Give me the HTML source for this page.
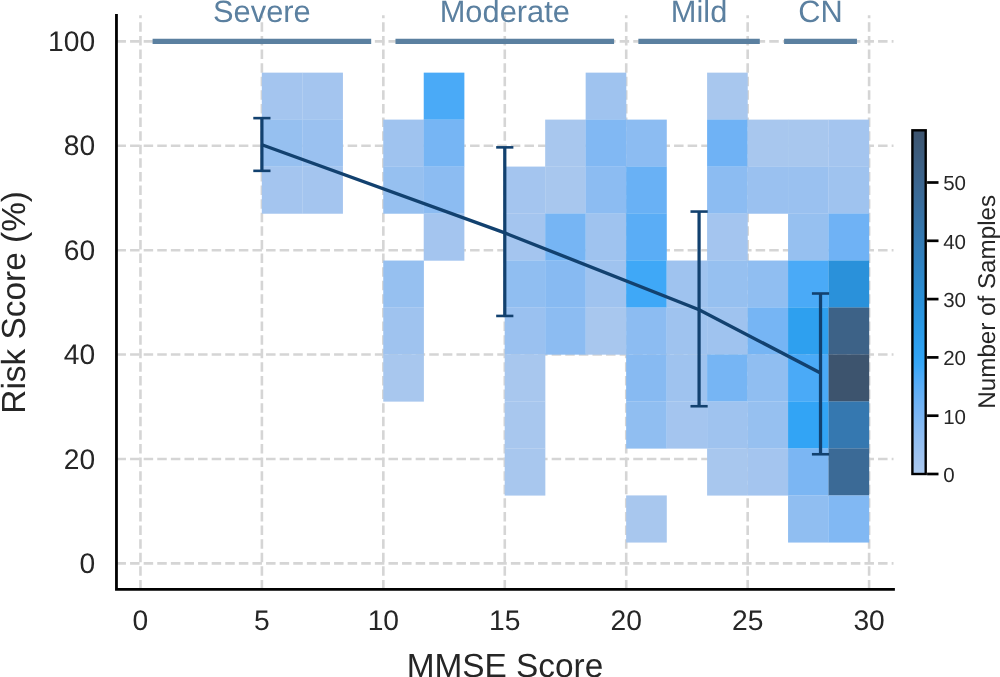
<!DOCTYPE html>
<html><head><meta charset="utf-8"><title>MMSE vs Risk Score</title>
<style>html,body{margin:0;padding:0;background:#fff}body{width:1000px;height:677px;overflow:hidden}svg{display:block;opacity:.999;will-change:transform}text{text-rendering:geometricPrecision;font-family:"Liberation Sans",Arial,Helvetica,sans-serif}</style></head><body>
<svg width="1000" height="677" viewBox="0 0 1000 677">
<defs><linearGradient id="cb" x1="0" y1="1" x2="0" y2="0">
<stop offset="0.0000" stop-color="#acc9ee"/>
<stop offset="0.0196" stop-color="#a7c7ef"/>
<stop offset="0.0392" stop-color="#a2c4ef"/>
<stop offset="0.0588" stop-color="#9dc2f0"/>
<stop offset="0.0784" stop-color="#97c0f0"/>
<stop offset="0.0980" stop-color="#92bef1"/>
<stop offset="0.1176" stop-color="#8cbcf2"/>
<stop offset="0.1373" stop-color="#86baf2"/>
<stop offset="0.1569" stop-color="#7fb8f3"/>
<stop offset="0.1765" stop-color="#79b5f4"/>
<stop offset="0.1961" stop-color="#72b3f4"/>
<stop offset="0.2157" stop-color="#6ab1f5"/>
<stop offset="0.2353" stop-color="#62aff5"/>
<stop offset="0.2549" stop-color="#5aadf6"/>
<stop offset="0.2745" stop-color="#50abf7"/>
<stop offset="0.2941" stop-color="#46a9f7"/>
<stop offset="0.3137" stop-color="#39a7f7"/>
<stop offset="0.3333" stop-color="#33a5f5"/>
<stop offset="0.3529" stop-color="#30a2f2"/>
<stop offset="0.3725" stop-color="#2ea0ef"/>
<stop offset="0.3922" stop-color="#2d9dec"/>
<stop offset="0.4118" stop-color="#2b9be8"/>
<stop offset="0.4314" stop-color="#2a99e5"/>
<stop offset="0.4510" stop-color="#2a96e1"/>
<stop offset="0.4706" stop-color="#2a94de"/>
<stop offset="0.4902" stop-color="#2a91da"/>
<stop offset="0.5098" stop-color="#2a8fd6"/>
<stop offset="0.5294" stop-color="#2b8dd2"/>
<stop offset="0.5490" stop-color="#2c8ace"/>
<stop offset="0.5686" stop-color="#2d88ca"/>
<stop offset="0.5882" stop-color="#2e85c6"/>
<stop offset="0.6078" stop-color="#2f83c2"/>
<stop offset="0.6275" stop-color="#3080be"/>
<stop offset="0.6471" stop-color="#327eba"/>
<stop offset="0.6667" stop-color="#337cb6"/>
<stop offset="0.6863" stop-color="#3479b2"/>
<stop offset="0.7059" stop-color="#3577ad"/>
<stop offset="0.7255" stop-color="#3675a9"/>
<stop offset="0.7451" stop-color="#3772a5"/>
<stop offset="0.7647" stop-color="#3870a1"/>
<stop offset="0.7843" stop-color="#396d9c"/>
<stop offset="0.8039" stop-color="#3a6b98"/>
<stop offset="0.8235" stop-color="#3b6994"/>
<stop offset="0.8431" stop-color="#3c6690"/>
<stop offset="0.8627" stop-color="#3c648b"/>
<stop offset="0.8824" stop-color="#3d6287"/>
<stop offset="0.9020" stop-color="#3d6083"/>
<stop offset="0.9216" stop-color="#3d5d7f"/>
<stop offset="0.9412" stop-color="#3d5b7a"/>
<stop offset="0.9608" stop-color="#3d5976"/>
<stop offset="0.9804" stop-color="#3d5672"/>
<stop offset="1.0000" stop-color="#3d546e"/>
<stop offset="1" stop-color="#3d546e"/>
</linearGradient></defs>
<rect width="1000" height="677" fill="#fff"/>
<g stroke="#d5d5d5" stroke-width="2.6" stroke-dasharray="9.5 4.1" fill="none">
<line x1="140.45" y1="589.45" x2="140.45" y2="15.30"/>
<line x1="261.89" y1="589.45" x2="261.89" y2="15.30"/>
<line x1="383.33" y1="589.45" x2="383.33" y2="15.30"/>
<line x1="504.78" y1="589.45" x2="504.78" y2="15.30"/>
<line x1="626.22" y1="589.45" x2="626.22" y2="15.30"/>
<line x1="747.66" y1="589.45" x2="747.66" y2="15.30"/>
<line x1="869.10" y1="589.45" x2="869.10" y2="15.30"/>
<line x1="116.46" y1="563.35" x2="893.49" y2="563.35"/>
<line x1="116.46" y1="458.96" x2="893.49" y2="458.96"/>
<line x1="116.46" y1="354.57" x2="893.49" y2="354.57"/>
<line x1="116.46" y1="250.18" x2="893.49" y2="250.18"/>
<line x1="116.46" y1="145.79" x2="893.49" y2="145.79"/>
<line x1="116.46" y1="41.40" x2="893.49" y2="41.40"/>
</g>
<g>
<rect x="261.81" y="72.64" width="40.64" height="47.14" fill="#a4c5ef"/>
<rect x="261.81" y="119.61" width="40.64" height="47.14" fill="#96c0f0"/>
<rect x="261.81" y="166.59" width="40.64" height="47.14" fill="#a4c5ef"/>
<rect x="302.29" y="72.64" width="40.64" height="47.14" fill="#a4c5ef"/>
<rect x="302.29" y="119.61" width="40.64" height="47.14" fill="#9ac1f0"/>
<rect x="302.29" y="166.59" width="40.64" height="47.14" fill="#a4c5ef"/>
<rect x="383.25" y="119.61" width="40.64" height="47.14" fill="#9fc3ef"/>
<rect x="383.25" y="166.59" width="40.64" height="47.14" fill="#96c0f0"/>
<rect x="383.25" y="260.54" width="40.64" height="47.14" fill="#96c0f0"/>
<rect x="383.25" y="307.51" width="40.64" height="47.14" fill="#9fc3ef"/>
<rect x="383.25" y="354.49" width="40.64" height="47.14" fill="#a8c7ee"/>
<rect x="423.73" y="72.64" width="40.64" height="47.14" fill="#4aaaf7"/>
<rect x="423.73" y="119.61" width="40.64" height="47.14" fill="#76b5f4"/>
<rect x="423.73" y="166.59" width="40.64" height="47.14" fill="#8cbcf2"/>
<rect x="423.73" y="213.56" width="40.64" height="47.14" fill="#a4c5ef"/>
<rect x="504.70" y="166.59" width="40.64" height="47.14" fill="#a4c5ef"/>
<rect x="504.70" y="213.56" width="40.64" height="47.14" fill="#a4c5ef"/>
<rect x="504.70" y="260.54" width="40.64" height="47.14" fill="#90bef1"/>
<rect x="504.70" y="307.51" width="40.64" height="47.14" fill="#9ac1f0"/>
<rect x="504.70" y="354.49" width="40.64" height="47.14" fill="#a8c7ee"/>
<rect x="504.70" y="401.47" width="40.64" height="47.14" fill="#a8c7ee"/>
<rect x="504.70" y="448.44" width="40.64" height="47.14" fill="#a8c7ee"/>
<rect x="545.18" y="119.61" width="40.64" height="47.14" fill="#a8c7ee"/>
<rect x="545.18" y="166.59" width="40.64" height="47.14" fill="#a8c7ee"/>
<rect x="545.18" y="213.56" width="40.64" height="47.14" fill="#76b5f4"/>
<rect x="545.18" y="260.54" width="40.64" height="47.14" fill="#87baf2"/>
<rect x="545.18" y="307.51" width="40.64" height="47.14" fill="#8cbcf2"/>
<rect x="585.66" y="72.64" width="40.64" height="47.14" fill="#9fc3ef"/>
<rect x="585.66" y="119.61" width="40.64" height="47.14" fill="#81b8f3"/>
<rect x="585.66" y="166.59" width="40.64" height="47.14" fill="#8cbcf2"/>
<rect x="585.66" y="213.56" width="40.64" height="47.14" fill="#9fc3ef"/>
<rect x="585.66" y="260.54" width="40.64" height="47.14" fill="#9fc3ef"/>
<rect x="585.66" y="307.51" width="40.64" height="47.14" fill="#a8c7ee"/>
<rect x="626.14" y="119.61" width="40.64" height="47.14" fill="#8cbcf2"/>
<rect x="626.14" y="166.59" width="40.64" height="47.14" fill="#69b1f5"/>
<rect x="626.14" y="213.56" width="40.64" height="47.14" fill="#5aadf6"/>
<rect x="626.14" y="260.54" width="40.64" height="47.14" fill="#3fa8f7"/>
<rect x="626.14" y="307.51" width="40.64" height="47.14" fill="#8cbcf2"/>
<rect x="626.14" y="354.49" width="40.64" height="47.14" fill="#87baf2"/>
<rect x="626.14" y="401.47" width="40.64" height="47.14" fill="#90bef1"/>
<rect x="626.14" y="495.42" width="40.64" height="47.14" fill="#a8c7ee"/>
<rect x="666.62" y="260.54" width="40.64" height="47.14" fill="#9fc3ef"/>
<rect x="666.62" y="307.51" width="40.64" height="47.14" fill="#9fc3ef"/>
<rect x="666.62" y="354.49" width="40.64" height="47.14" fill="#9fc3ef"/>
<rect x="666.62" y="401.47" width="40.64" height="47.14" fill="#a4c5ef"/>
<rect x="707.10" y="72.64" width="40.64" height="47.14" fill="#a8c7ee"/>
<rect x="707.10" y="119.61" width="40.64" height="47.14" fill="#6fb2f5"/>
<rect x="707.10" y="166.59" width="40.64" height="47.14" fill="#8cbcf2"/>
<rect x="707.10" y="213.56" width="40.64" height="47.14" fill="#a4c5ef"/>
<rect x="707.10" y="260.54" width="40.64" height="47.14" fill="#96c0f0"/>
<rect x="707.10" y="307.51" width="40.64" height="47.14" fill="#9fc3ef"/>
<rect x="707.10" y="354.49" width="40.64" height="47.14" fill="#76b5f4"/>
<rect x="707.10" y="401.47" width="40.64" height="47.14" fill="#9fc3ef"/>
<rect x="707.10" y="448.44" width="40.64" height="47.14" fill="#a8c7ee"/>
<rect x="747.58" y="119.61" width="40.64" height="47.14" fill="#a8c7ee"/>
<rect x="747.58" y="166.59" width="40.64" height="47.14" fill="#9ac1f0"/>
<rect x="747.58" y="260.54" width="40.64" height="47.14" fill="#90bef1"/>
<rect x="747.58" y="307.51" width="40.64" height="47.14" fill="#76b5f4"/>
<rect x="747.58" y="354.49" width="40.64" height="47.14" fill="#90bef1"/>
<rect x="747.58" y="401.47" width="40.64" height="47.14" fill="#96c0f0"/>
<rect x="747.58" y="448.44" width="40.64" height="47.14" fill="#a4c5ef"/>
<rect x="788.06" y="119.61" width="40.64" height="47.14" fill="#a8c7ee"/>
<rect x="788.06" y="166.59" width="40.64" height="47.14" fill="#9ac1f0"/>
<rect x="788.06" y="213.56" width="40.64" height="47.14" fill="#96c0f0"/>
<rect x="788.06" y="260.54" width="40.64" height="47.14" fill="#4aaaf7"/>
<rect x="788.06" y="307.51" width="40.64" height="47.14" fill="#2ea0ef"/>
<rect x="788.06" y="354.49" width="40.64" height="47.14" fill="#4aaaf7"/>
<rect x="788.06" y="401.47" width="40.64" height="47.14" fill="#32a4f5"/>
<rect x="788.06" y="448.44" width="40.64" height="47.14" fill="#7bb6f3"/>
<rect x="788.06" y="495.42" width="40.64" height="47.14" fill="#90bef1"/>
<rect x="828.54" y="119.61" width="40.64" height="47.14" fill="#a4c5ef"/>
<rect x="828.54" y="166.59" width="40.64" height="47.14" fill="#9fc3ef"/>
<rect x="828.54" y="213.56" width="40.64" height="47.14" fill="#6fb2f5"/>
<rect x="828.54" y="260.54" width="40.64" height="47.14" fill="#2a91da"/>
<rect x="828.54" y="307.51" width="40.64" height="47.14" fill="#3d6287"/>
<rect x="828.54" y="354.49" width="40.64" height="47.14" fill="#3d546e"/>
<rect x="828.54" y="401.47" width="40.64" height="47.14" fill="#3578b0"/>
<rect x="828.54" y="448.44" width="40.64" height="47.14" fill="#3b6a96"/>
<rect x="828.54" y="495.42" width="40.64" height="47.14" fill="#81b8f3"/>
</g>
<line x1="152.59" y1="41.40" x2="371.19" y2="41.40" stroke="#5b80a0" stroke-width="5.1"/>
<line x1="395.48" y1="41.40" x2="614.07" y2="41.40" stroke="#5b80a0" stroke-width="5.1"/>
<line x1="638.36" y1="41.40" x2="759.80" y2="41.40" stroke="#5b80a0" stroke-width="5.1"/>
<line x1="784.09" y1="41.40" x2="856.96" y2="41.40" stroke="#5b80a0" stroke-width="5.1"/>
<g stroke="#12416f" fill="none">
<polyline stroke-width="3.4" points="261.89,144.75 504.78,232.96 699.08,309.68 820.52,373.10"/>
<line stroke-width="3.25" x1="261.89" y1="118.13" x2="261.89" y2="170.84"/>
<line stroke-width="2.6" x1="253.29" y1="118.13" x2="270.49" y2="118.13"/>
<line stroke-width="2.6" x1="253.29" y1="170.84" x2="270.49" y2="170.84"/>
<line stroke-width="3.25" x1="504.78" y1="147.36" x2="504.78" y2="315.95"/>
<line stroke-width="2.6" x1="496.18" y1="147.36" x2="513.38" y2="147.36"/>
<line stroke-width="2.6" x1="496.18" y1="315.95" x2="513.38" y2="315.95"/>
<line stroke-width="3.25" x1="699.08" y1="211.56" x2="699.08" y2="406.24"/>
<line stroke-width="2.6" x1="690.48" y1="211.56" x2="707.68" y2="211.56"/>
<line stroke-width="2.6" x1="690.48" y1="406.24" x2="707.68" y2="406.24"/>
<line stroke-width="3.25" x1="820.52" y1="293.50" x2="820.52" y2="454.26"/>
<line stroke-width="2.6" x1="811.92" y1="293.50" x2="829.12" y2="293.50"/>
<line stroke-width="2.6" x1="811.92" y1="454.26" x2="829.12" y2="454.26"/>
</g>
<path d="M116.46 15.30 V589.45 H893.49" stroke="#000" stroke-width="2.8" fill="none" stroke-linecap="square" stroke-linejoin="miter"/>
<g fill="#262626" font-size="28.2">
<text x="140.45" y="630.2" text-anchor="middle">0</text>
<text x="261.89" y="630.2" text-anchor="middle">5</text>
<text x="383.33" y="630.2" text-anchor="middle">10</text>
<text x="504.78" y="630.2" text-anchor="middle">15</text>
<text x="626.22" y="630.2" text-anchor="middle">20</text>
<text x="747.66" y="630.2" text-anchor="middle">25</text>
<text x="869.10" y="630.2" text-anchor="middle">30</text>
<text x="95.1" y="572.95" text-anchor="end">0</text>
<text x="95.1" y="468.56" text-anchor="end">20</text>
<text x="95.1" y="364.17" text-anchor="end">40</text>
<text x="95.1" y="259.78" text-anchor="end">60</text>
<text x="95.1" y="155.39" text-anchor="end">80</text>
<text x="95.1" y="51.00" text-anchor="end">100</text>
</g>
<text x="504.98" y="677.2" text-anchor="middle" font-size="33.4" fill="#262626">MMSE Score</text>
<text transform="translate(25.4 302.38) rotate(-90)" text-anchor="middle" font-size="33.4" fill="#262626">Risk Score (%)</text>
<g fill="#5b80a0" font-size="30.8" text-anchor="middle">
<text x="261.89" y="22.3">Severe</text>
<text x="504.78" y="22.3">Moderate</text>
<text x="699.08" y="22.3">Mild</text>
<text x="820.52" y="22.3">CN</text>
</g>
<rect x="912.4" y="130.3" width="13.30" height="343.70" fill="url(#cb)" stroke="#000" stroke-width="2.4"/>
<g stroke="#000" stroke-width="2.7">
<line x1="927.10" y1="474.00" x2="938.5" y2="474.00"/>
<line x1="927.10" y1="415.70" x2="938.5" y2="415.70"/>
<line x1="927.10" y1="357.40" x2="938.5" y2="357.40"/>
<line x1="927.10" y1="299.10" x2="938.5" y2="299.10"/>
<line x1="927.10" y1="240.80" x2="938.5" y2="240.80"/>
<line x1="927.10" y1="182.50" x2="938.5" y2="182.50"/>
</g>
<g fill="#262626" font-size="20.5">
<text x="943.2" y="481.80">0</text>
<text x="943.2" y="423.50">10</text>
<text x="943.2" y="365.20">20</text>
<text x="943.2" y="306.90">30</text>
<text x="943.2" y="248.60">40</text>
<text x="943.2" y="190.30">50</text>
</g>
<text transform="translate(994.6 301.8) rotate(-90)" text-anchor="middle" font-size="24.2" fill="#262626">Number of Samples</text>
</svg></body></html>
